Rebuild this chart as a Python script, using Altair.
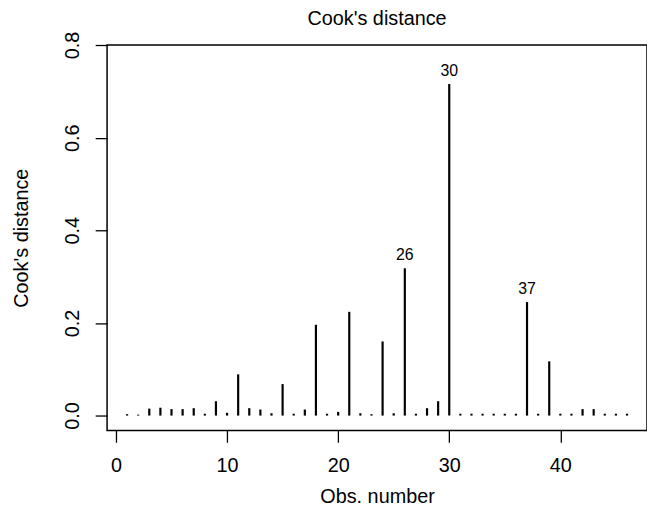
import altair as alt
import pandas as pd

obs = list(range(1, 47))
cook = [0.003, 0.002, 0.015, 0.017, 0.014, 0.014, 0.016, 0.004, 0.031, 0.006,
        0.089, 0.016, 0.013, 0.005, 0.068, 0.004, 0.013, 0.196, 0.004, 0.008,
        0.224, 0.005, 0.003, 0.160, 0.005, 0.318, 0.004, 0.016, 0.031, 0.716,
        0.004, 0.004, 0.004, 0.004, 0.004, 0.004, 0.245, 0.004, 0.117, 0.004,
        0.004, 0.014, 0.014, 0.004, 0.004, 0.004]
labelled = [26, 30, 37]
x_ticks = [0, 10, 20, 30, 40]
y_ticks = [0.0, 0.2, 0.4, 0.6, 0.8]

df = pd.DataFrame({"obs": obs, "cook": cook, "zero": [0.0] * len(obs)})
df["lab"] = [str(o) if o in labelled else "" for o in obs]

FONT = "Liberation Sans"
W, H = 545, 389

xs = alt.Scale(domain=[-0.8, 47.8], nice=False, zero=False)
ys = alt.Scale(domain=[-0.032, 0.8], nice=False, zero=False)

x_axis = alt.Axis(values=x_ticks, title="Obs. number", grid=False, domain=False,
                  tickSize=12, tickWidth=1.3, tickColor="black",
                  labelFontSize=20, labelPadding=13, labelColor="black", labelFont=FONT,
                  titleFontSize=20, titleFontWeight="normal", titleFont=FONT, titleColor="black",
                  titleBaseline="middle", titleAlign="center", titleX=W / 2, titleY=67)
y_axis = alt.Axis(values=y_ticks, format=".1f", title="Cook's distance", grid=False, domain=False,
                  tickSize=12, tickWidth=1.3, tickColor="black",
                  labelFontSize=20, labelPadding=13, labelColor="black", labelFont=FONT,
                  labelAngle=270, labelAlign="center", labelBaseline="bottom",
                  titleFontSize=20, titleFontWeight="normal", titleFont=FONT, titleColor="black",
                  titleAngle=270, titleBaseline="middle", titleAlign="center",
                  titleX=-86, titleY=H / 2)

base = alt.Chart(df)

bars = base.mark_rule(color="black", strokeWidth=2.2, strokeCap="butt").encode(
    x=alt.X("obs:Q", scale=xs, axis=x_axis),
    y=alt.Y("zero:Q", scale=ys, axis=y_axis),
    y2="cook:Q",
)

labels = base.transform_filter(alt.datum.lab != "").mark_text(
    font=FONT, fontSize=16, color="black", baseline="middle", dy=-13
).encode(
    x=alt.X("obs:Q", scale=xs),
    y=alt.Y("cook:Q", scale=ys),
    text="lab:N",
)

chart = (bars + labels).properties(
    width=W, height=H,
    title=alt.TitleParams("Cook's distance", fontSize=20, fontWeight="normal", font=FONT,
                          color="black", anchor="middle", offset=0, dy=-2),
    autosize=alt.AutoSizeParams(type="none"),
    padding={"left": 100, "top": 35, "right": 0, "bottom": 80},
).configure(background="white").configure_view(stroke="black", strokeWidth=1.5)

chart.save("out.html", embed_options={"renderer": "svg", "actions": False})
